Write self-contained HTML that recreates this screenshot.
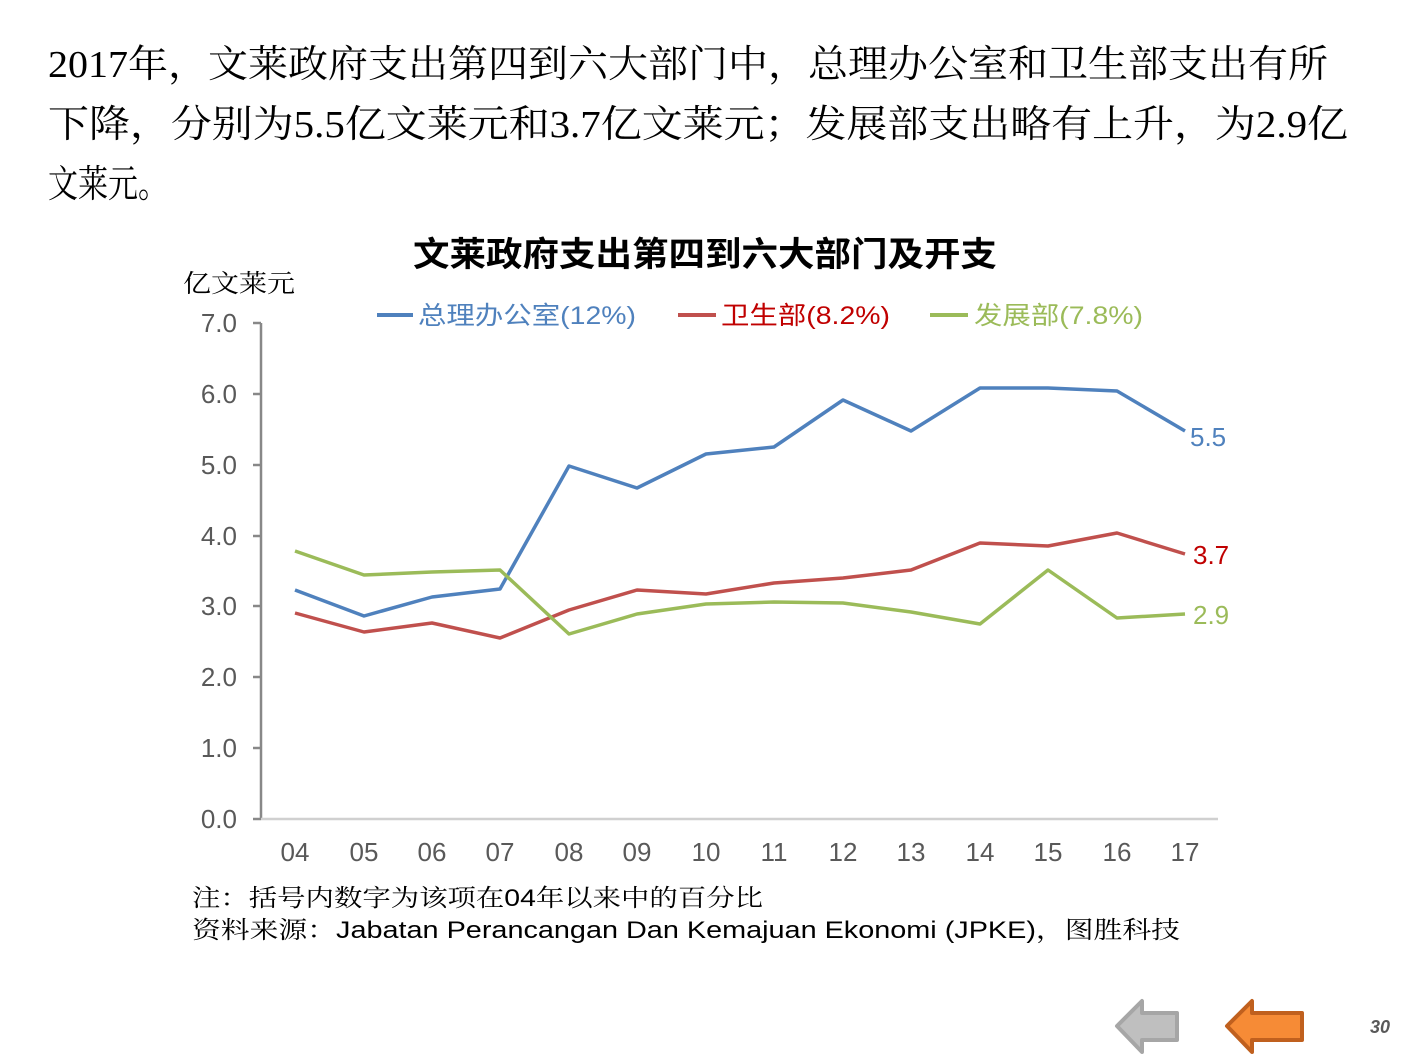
<!DOCTYPE html>
<html><head><meta charset="utf-8"><style>
html,body{margin:0;padding:0;background:#fff;}
body{width:1411px;height:1058px;overflow:hidden;position:relative;}
</style></head><body>
<svg width="1411" height="1058" xmlns="http://www.w3.org/2000/svg" style="position:absolute;left:0;top:0">
<g font-family="'Liberation Serif','Noto Serif CJK SC',serif" font-size="38" fill="#000">
<text x="48" y="77" textLength="1280" lengthAdjust="spacingAndGlyphs">2017年，文莱政府支出第四到六大部门中，总理办公室和卫生部支出有所</text>
<text x="48" y="137" textLength="1300" lengthAdjust="spacingAndGlyphs">下降，分别为5.5亿文莱元和3.7亿文莱元；发展部支出略有上升，为2.9亿</text>
<text x="48" y="197" textLength="120" lengthAdjust="spacingAndGlyphs">文莱元。</text>
</g>
<text x="413" y="266" font-family="'Noto Sans CJK SC',sans-serif" font-weight="bold" font-size="34" textLength="584" lengthAdjust="spacingAndGlyphs">文莱政府支出第四到六大部门及开支</text>
<text x="183" y="292" font-family="'Noto Serif CJK SC',serif" font-size="25" textLength="112" lengthAdjust="spacingAndGlyphs">亿文莱元</text>
<g font-family="'Liberation Sans','Noto Sans CJK SC',sans-serif" font-size="25">
<line x1="377" y1="315" x2="413" y2="315" stroke="#4F81BD" stroke-width="4"/>
<text x="418" y="324" fill="#4F81BD" textLength="218" lengthAdjust="spacingAndGlyphs">总理办公室(12%)</text>
<line x1="678" y1="315" x2="716" y2="315" stroke="#C0504D" stroke-width="4"/>
<text x="721" y="324" fill="#C00000" textLength="169" lengthAdjust="spacingAndGlyphs">卫生部(8.2%)</text>
<line x1="930" y1="315" x2="968" y2="315" stroke="#9BBB59" stroke-width="4"/>
<text x="974" y="324" fill="#9BBB59" textLength="169" lengthAdjust="spacingAndGlyphs">发展部(7.8%)</text>
</g>
<g stroke="#888" stroke-width="2.5" fill="none">
<line x1="261" y1="323" x2="261" y2="819"/>
<line x1="253" y1="323" x2="261" y2="323"/><line x1="253" y1="394" x2="261" y2="394"/><line x1="253" y1="465" x2="261" y2="465"/><line x1="253" y1="536" x2="261" y2="536"/><line x1="253" y1="606" x2="261" y2="606"/><line x1="253" y1="677" x2="261" y2="677"/><line x1="253" y1="748" x2="261" y2="748"/><line x1="253" y1="819" x2="261" y2="819"/>
</g>
<line x1="261" y1="819" x2="1218" y2="819" stroke="#d0d0d0" stroke-width="2.5"/>
<g font-family="'Liberation Sans',sans-serif" font-size="26" fill="#595959" text-anchor="end">
<text x="237" y="332">7.0</text><text x="237" y="403">6.0</text><text x="237" y="474">5.0</text><text x="237" y="545">4.0</text><text x="237" y="615">3.0</text><text x="237" y="686">2.0</text><text x="237" y="757">1.0</text><text x="237" y="828">0.0</text>
</g>
<g font-family="'Liberation Sans',sans-serif" font-size="26" fill="#595959" text-anchor="middle">
<text x="295" y="861">04</text><text x="364" y="861">05</text><text x="432" y="861">06</text><text x="500" y="861">07</text><text x="569" y="861">08</text><text x="637" y="861">09</text><text x="706" y="861">10</text><text x="774" y="861">11</text><text x="843" y="861">12</text><text x="911" y="861">13</text><text x="980" y="861">14</text><text x="1048" y="861">15</text><text x="1117" y="861">16</text><text x="1185" y="861">17</text>
</g>
<g fill="none" stroke-width="3.5" stroke-linejoin="round">
<polyline stroke="#4F81BD" points="295,590 364,616 432,597 500,589 569,466 637,488 706,454 774,447 843,400 911,431 980,388 1048,388 1117,391 1185,431"/>
<polyline stroke="#C0504D" points="295,613 364,632 432,623 500,638 569,610 637,590 706,594 774,583 843,578 911,570 980,543 1048,546 1117,533 1185,554"/>
<polyline stroke="#9BBB59" points="295,551 364,575 432,572 500,570 569,634 637,614 706,604 774,602 843,603 911,612 980,624 1048,570 1117,618 1185,614"/>
</g>
<g font-family="'Liberation Sans',sans-serif" font-size="26">
<text x="1190" y="446" fill="#4F81BD">5.5</text>
<text x="1193" y="564" fill="#C00000">3.7</text>
<text x="1193" y="624" fill="#9BBB59">2.9</text>
</g>
<g font-family="'Liberation Sans','Noto Serif CJK SC',serif" font-size="24" fill="#000">
<text x="192" y="906" textLength="571" lengthAdjust="spacingAndGlyphs">注：括号内数字为该项在04年以来中的百分比</text>
<text x="192" y="938" textLength="988" lengthAdjust="spacingAndGlyphs">资料来源：Jabatan Perancangan Dan Kemajuan Ekonomi (JPKE)，图胜科技</text>
</g>
<polygon points="1117,1026 1142,1001 1142,1013 1177,1013 1177,1040 1142,1040 1142,1052" fill="#BFBFBF" stroke="#A6A6A6" stroke-width="4" stroke-linejoin="round"/>
<polygon points="1227,1026 1252,1001 1252,1013 1302,1013 1302,1040 1252,1040 1252,1052" fill="#F68B36" stroke="#C0601E" stroke-width="4" stroke-linejoin="round"/>
<text x="1370" y="1033" font-family="'Liberation Sans',sans-serif" font-style="italic" font-weight="bold" font-size="18" fill="#595959">30</text>
</svg>
</body></html>
